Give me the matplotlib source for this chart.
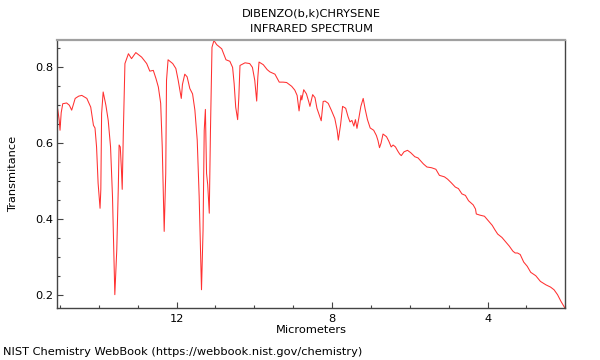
import matplotlib
matplotlib.use("Agg")
import matplotlib.pyplot as plt
from matplotlib.ticker import MultipleLocator, FixedLocator

title_lines = ["DIBENZO(b,k)CHRYSENE", "INFRARED SPECTRUM"]
x_label = "Micrometers"
y_label = "Transmitance"
credit = "NIST Chemistry WebBook (https://webbook.nist.gov/chemistry)"

micrometers = [
    15.06, 15.02, 15.00, 14.97, 14.93, 14.83, 14.76, 14.70, 14.61, 14.52, 14.44, 14.31,
    14.21, 14.14, 14.10, 14.06, 14.02, 13.97, 13.95, 13.93, 13.89, 13.82, 13.76, 13.70,
    13.65, 13.59, 13.54, 13.50, 13.48, 13.45, 13.42, 13.40, 13.37, 13.33, 13.24, 13.16,
    13.05, 12.90, 12.77, 12.69, 12.60, 12.53, 12.47, 12.41, 12.37, 12.33, 12.32, 12.28,
    12.26, 12.22, 12.10, 12.02, 11.96, 11.88, 11.85, 11.79, 11.73, 11.66, 11.59, 11.53,
    11.47, 11.42, 11.36, 11.32, 11.29, 11.26, 11.23, 11.20, 11.16, 11.13, 11.09, 11.04,
    10.97, 10.84, 10.73, 10.63, 10.56, 10.52, 10.48, 10.43, 10.40, 10.37, 10.24, 10.12,
    10.05, 9.99, 9.94, 9.91, 9.88, 9.77, 9.67, 9.60, 9.47, 9.36, 9.26, 9.17,
    9.04, 8.96, 8.90, 8.85, 8.80, 8.78, 8.73, 8.66, 8.60, 8.57, 8.50, 8.44,
    8.39, 8.28, 8.23, 8.18, 8.10, 8.02, 7.93, 7.87, 7.84, 7.78, 7.73, 7.65,
    7.59, 7.54, 7.49, 7.44, 7.40, 7.36, 7.31, 7.26, 7.20, 7.15, 7.09, 7.02,
    6.93, 6.86, 6.82, 6.78, 6.74, 6.69, 6.60, 6.54, 6.48, 6.43, 6.37, 6.31,
    6.26, 6.22, 6.15, 6.06, 5.98, 5.87, 5.79, 5.72, 5.65, 5.56, 5.44, 5.33,
    5.24, 5.11, 5.03, 4.94, 4.83, 4.75, 4.66, 4.57, 4.49, 4.37, 4.31, 4.29,
    4.20, 4.08, 3.98, 3.88, 3.81, 3.74, 3.63, 3.53, 3.44, 3.35, 3.29, 3.23,
    3.16, 3.07, 2.98, 2.89, 2.76, 2.64, 2.50, 2.38, 2.29, 2.20, 2.11, 2.03, 2.00,
]
transmittance = [
    0.690, 0.660, 0.634, 0.680, 0.704, 0.706, 0.700, 0.687, 0.718, 0.724, 0.726, 0.718,
    0.695, 0.647, 0.640, 0.590, 0.494, 0.428, 0.478, 0.678, 0.735, 0.700, 0.660, 0.590,
    0.459, 0.200, 0.318, 0.485, 0.595, 0.590, 0.530, 0.478, 0.634, 0.810, 0.836, 0.823,
    0.839, 0.827, 0.810, 0.790, 0.792, 0.770, 0.748, 0.705, 0.590, 0.406, 0.367, 0.520,
    0.766, 0.820, 0.810, 0.797, 0.766, 0.718, 0.755, 0.782, 0.775, 0.744, 0.730, 0.687,
    0.608, 0.459, 0.213, 0.370, 0.634, 0.689, 0.520, 0.490, 0.415, 0.630, 0.853, 0.871,
    0.860, 0.849, 0.820, 0.816, 0.800, 0.757, 0.695, 0.662, 0.720, 0.805, 0.812, 0.810,
    0.800, 0.766, 0.711, 0.775, 0.814, 0.807, 0.794, 0.788, 0.782, 0.761, 0.761, 0.760,
    0.750, 0.740, 0.726, 0.685, 0.726, 0.714, 0.741, 0.730, 0.709, 0.697, 0.728, 0.720,
    0.692, 0.659, 0.710, 0.711, 0.705, 0.687, 0.665, 0.634, 0.608, 0.650, 0.697, 0.692,
    0.670, 0.656, 0.660, 0.645, 0.662, 0.639, 0.667, 0.697, 0.718, 0.690, 0.662, 0.640,
    0.634, 0.620, 0.607, 0.588, 0.600, 0.624, 0.617, 0.605, 0.590, 0.595, 0.590, 0.579,
    0.571, 0.567, 0.577, 0.581, 0.575, 0.564, 0.561, 0.553, 0.545, 0.537, 0.535, 0.531,
    0.515, 0.511, 0.505, 0.496, 0.484, 0.480, 0.466, 0.462, 0.448, 0.437, 0.426, 0.413,
    0.410, 0.407, 0.395, 0.383, 0.371, 0.360, 0.351, 0.339, 0.328, 0.315, 0.310, 0.310,
    0.306, 0.286, 0.275, 0.259, 0.250, 0.235, 0.226, 0.220, 0.213, 0.200, 0.182, 0.168, 0.163,
]

x_ticks = [12, 8, 4]
y_ticks = [0.2, 0.4, 0.6, 0.8]

fs = 8.2

fig = plt.figure(figsize=(6, 3.6), dpi=100)
ax = fig.add_axes([57.3 / 600, 1 - 308.3 / 360, (565.3 - 57.3) / 600, (308.3 - 39.7) / 360])

ax.plot(micrometers, transmittance, color="#ff3030", lw=0.75)
ax.set_xlim(15.07, 2.0)
ax.set_ylim(0.164, 0.873)

ax.xaxis.set_major_locator(FixedLocator(x_ticks))
ax.xaxis.set_minor_locator(MultipleLocator(1))
ax.yaxis.set_major_locator(FixedLocator(y_ticks))
ax.yaxis.set_minor_locator(MultipleLocator(0.05))
ax.set_xticklabels([str(t) for t in x_ticks])
ax.set_yticklabels([f"{t:.1f}" for t in y_ticks])

ax.tick_params(which="both", direction="in", colors="#444444", labelcolor="black", labelsize=fs)
ax.tick_params(which="major", length=4, width=0.8)
ax.tick_params(which="minor", length=2.5, width=0.8)
ax.tick_params(axis="x", pad=4)
ax.tick_params(axis="y", pad=3)

for side in ["left", "bottom", "right"]:
    ax.spines[side].set_color("#444444")
    ax.spines[side].set_linewidth(1.0)
ax.spines["top"].set_color("#a0a0a0")
ax.spines["top"].set_linewidth(1.6)

ax.set_xlabel(x_label, fontsize=fs, labelpad=1)
ax.set_ylabel(y_label, fontsize=fs, labelpad=12)

cx = (57.3 + 565.3) / 2 / 600
fig.text(cx, 1 - 14 / 360, title_lines[0], ha="center", va="center", fontsize=fs)
fig.text(cx, 1 - 29.5 / 360, title_lines[1], ha="center", va="center", fontsize=fs)
fig.text(3 / 600, 1 - 352 / 360, credit, ha="left", va="center", fontsize=fs)

fig.savefig("out.png", dpi=100)
